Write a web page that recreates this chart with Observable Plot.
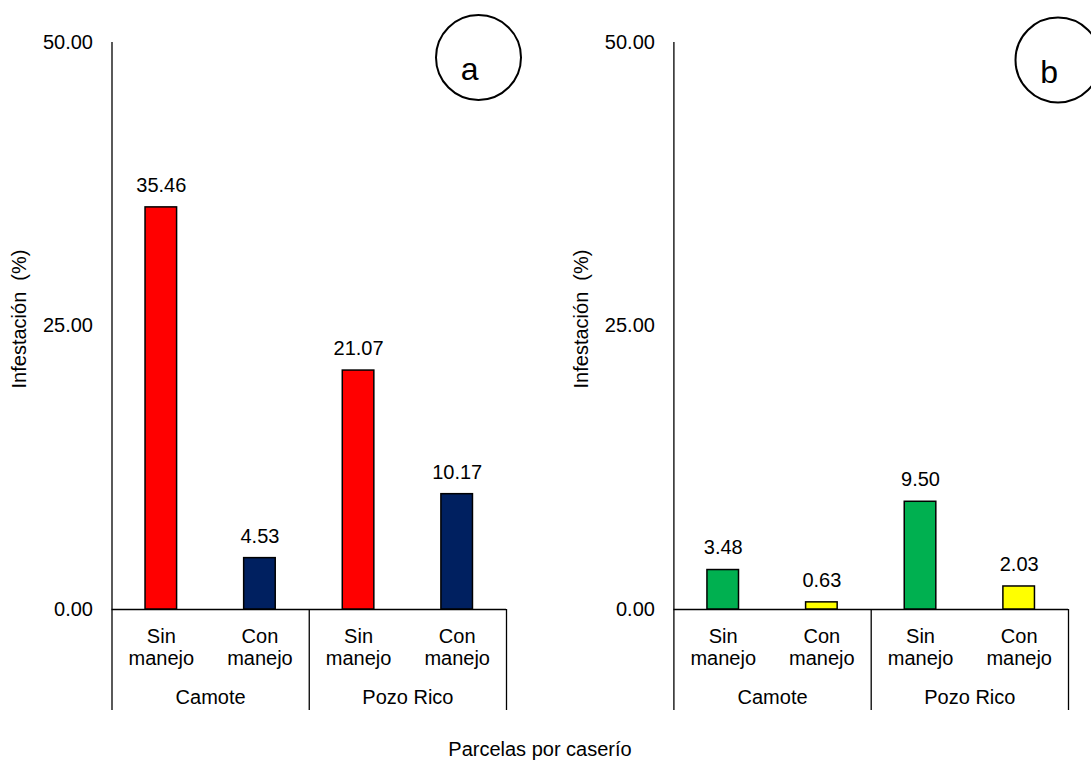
<!DOCTYPE html>
<html>
<head>
<meta charset="utf-8">
<script src="https://cdn.jsdelivr.net/npm/d3@7"></script>
<script src="https://cdn.jsdelivr.net/npm/@observablehq/plot@0.6"></script>
<style>
  body { margin: 0; background: #fff; overflow: hidden; }
  #chart { position: relative; width: 1091px; height: 762px; font-family: Arial, "Liberation Sans", sans-serif; }
  .panel { position: absolute; top: 0; }
  #caption { position: absolute; left: 0; width: 1091px; top: 739px; line-height: 20px; font-size: 20px; color: #000; }
  #caption span { position: absolute; transform: translateX(-50%); white-space: nowrap; }
</style>
</head>
<body>
<div id="chart"><div id="caption"><span style="left:540px">Parcelas por caserío</span></div></div>
<script>
// Treatments per plot (two per caserío), caseríos and y ticks
const treatments = ["Sin manejo", "Con manejo", "Sin manejo", "Con manejo"];
const caserios = ["Camote", "Pozo Rico"];
const yTicks = [0, 25, 50];
const yTitle = "Infestación  (%)";

// Panel a: infestation (%)
const valuesA = [35.46, 4.53, 21.07, 10.17];
const colorsA = ["#FF0000", "#002060", "#FF0000", "#002060"];

// Panel b: infestation (%)
const valuesB = [3.48, 0.63, 9.50, 2.03];
const colorsB = ["#00B050", "#FFFF00", "#00B050", "#FFFF00"];

const chart = document.getElementById("chart");

function panel({values, colors, tag, left, width, marginLeft, marginRight, badge}) {
  const height = 725, marginTop = 42, marginBottom = 116;
  const data = values.map((v, i) => ({i, value: v, color: colors[i], group: Math.floor(i / 2)}));
  const barHalf = 0.16;
  // extent of the category separators below the baseline, in y units
  const pxPerUnit = (height - marginTop - marginBottom) / 50;
  const yLow = -101 / pxPerUnit;
  const groups = caserios.map((c, g) => ({c, g}));

  const svg = Plot.plot({
    width, height, marginTop, marginBottom, marginLeft, marginRight,
    style: {fontFamily: 'Arial, "Liberation Sans", sans-serif', fontSize: "20px", color: "#000", background: "#fff", overflow: "visible"},
    x: {type: "linear", domain: [0, 4]},
    y: {domain: [0, 50]},
    marks: [
      Plot.axisY({ticks: yTicks, tickFormat: d => d.toFixed(2), tickSize: 0, tickPadding: 19, fontSize: 20, label: null}),
      Plot.axisX({ticks: treatments.map((t, i) => i + 0.5), tickFormat: x => treatments[Math.floor(x)].replace(" ", "\n"),
                  tickSize: 0, tickPadding: 18, lineHeight: 1.1, fontSize: 20, label: null}),
      Plot.text([yTitle], {frameAnchor: "left", textAnchor: "middle", rotate: -90, dx: -92, dy: -7, fontSize: 20}),
      Plot.ruleX([0], {y1: 0, y2: 50, stroke: "#000", strokeWidth: 1.3}),
      Plot.ruleX([0, 2, 4], {y1: 0, y2: yLow, stroke: "#000", strokeWidth: 1.3}),
      Plot.ruleY([0], {x1: 0, x2: 4, stroke: "#000", strokeWidth: 1.3}),
      Plot.rectY(data, {x1: d => d.i + 0.5 - barHalf, x2: d => d.i + 0.5 + barHalf, y: "value",
                        fill: d => d.color, stroke: "#000", strokeWidth: 1.5}),
      Plot.text(data, {x: d => d.i + 0.5, y: "value", text: d => d.value.toFixed(2), dy: -22, fontSize: 20}),
      Plot.text(groups, {x: d => 2 * d.g + 1, text: "c", frameAnchor: "bottom", lineAnchor: "top", dy: 80, fontSize: 20}),
      Plot.dot([tag], {frameAnchor: "top-right", dx: badge.dx, dy: badge.dy, r: 42.5, fill: "#fff", stroke: "#000", strokeWidth: 2}),
      Plot.text([tag], {frameAnchor: "top-right", dx: badge.dx, dy: badge.dy, text: d => d, fontSize: 32})
    ]
  });
  svg.classList.add("panel");
  svg.style.left = left + "px";
  chart.appendChild(svg);
}

panel({values: valuesA, colors: colorsA, tag: "a", left: 0, width: 565, marginLeft: 111.5, marginRight: 59,
       badge: {dx: -28, dy: 15}});
panel({values: valuesB, colors: colorsB, tag: "b", left: 565, width: 526, marginLeft: 108.4, marginRight: 23,
       badge: {dx: -10.5, dy: 17.5}});
</script>
</body>
</html>
